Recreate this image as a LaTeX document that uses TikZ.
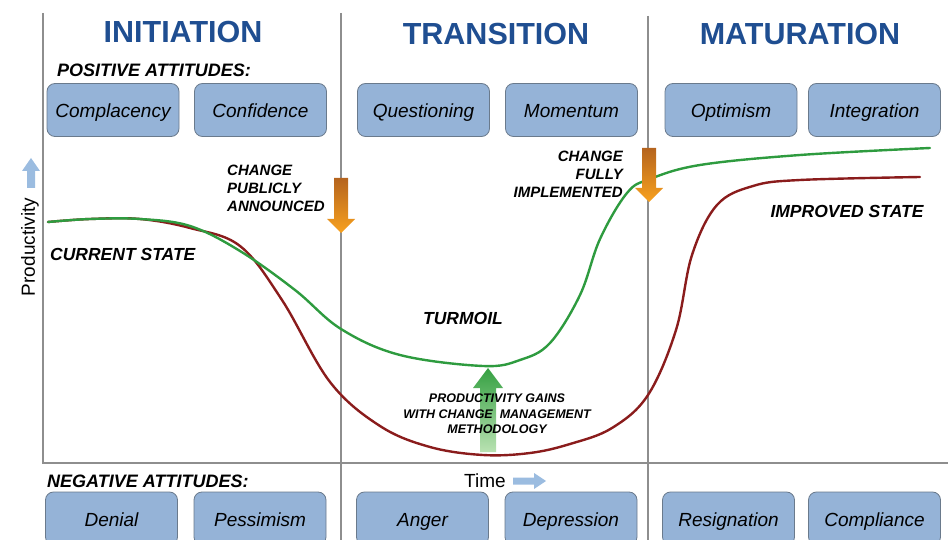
\documentclass[tikz,border=0pt]{standalone}
\usepackage{fontspec}
\setmainfont{Liberation Sans}
\definecolor{headblue}{HTML}{1F4E91}
\definecolor{boxfill}{HTML}{95B3D7}
\definecolor{boxline}{HTML}{6A7A8C}
\definecolor{axisgray}{HTML}{8E8E8E}
\definecolor{curvegreen}{HTML}{2E9B3F}
\definecolor{curvered}{HTML}{8A1C1C}
\definecolor{orangetop}{HTML}{B5641E}
\definecolor{orangebot}{HTML}{F8A11E}
\definecolor{greentop}{HTML}{35A042}
\definecolor{greenbot}{HTML}{B9E2B2}
\definecolor{lightarrow}{HTML}{9BBCE0}
\begin{document}
\begin{tikzpicture}[x=1pt,y=-1pt,
  attbox/.style={draw=boxline, line width=0.8pt, fill=boxfill, rounded corners=8pt,
    minimum width=132pt, minimum height=53pt, inner sep=0pt, text height=15pt, text depth=0pt,
    font=\fontsize{19}{22}\selectfont\itshape},
  heading/.style={text=headblue, inner sep=0pt, font=\fontsize{30.5}{34}\selectfont\bfseries},
  section/.style={inner sep=0pt, font=\fontsize{18}{20}\selectfont\bfseries\itshape},
  lbl/.style={inner sep=0pt, font=\fontsize{15}{18}\selectfont\bfseries\itshape},
  statelbl/.style={inner sep=0pt, font=\fontsize{17.5}{20}\selectfont\bfseries\itshape},
  smalllbl/.style={inner sep=0pt, align=center, font=\fontsize{12.5}{15.5}\selectfont\bfseries\itshape},
  axisline/.style={draw=axisgray, line width=2.2pt},
  curve/.style={line width=2.4pt, line cap=round}
]
\useasboundingbox (0,0) rectangle (948,540);
\clip (0,0) rectangle (948,540);

% axes and dividers
\draw[axisline] (43,13) -- (43,463) -- (948,463);
\draw[axisline] (341,13) -- (341,540);
\draw[axisline] (648,16) -- (648,540);

% headings
\node[heading] (h1) at (183,32) {INITIATION};
\node[heading] (h2) at (496,34) {TRANSITION};
\node[heading] (h3) at (800,34) {MATURATION};

\node[section, anchor=west] (pos) at (57,70) {POSITIVE ATTITUDES:};
\node[section, anchor=west] (neg) at (47,481) {NEGATIVE ATTITUDES:};

% positive boxes
\node[attbox] (b1) at (113,110) {Complacency};
\node[attbox] (b2) at (260.5,110) {Confidence};
\node[attbox] (b3) at (423.5,110) {Questioning};
\node[attbox] (b4) at (571.5,110) {Momentum};
\node[attbox] (b5) at (731,110) {Optimism};
\node[attbox] (b6) at (874.5,110) {Integration};

% negative boxes
\node[attbox] (n1) at (111.5,518.5) {Denial};
\node[attbox] (n2) at (260,518.5) {Pessimism};
\node[attbox] (n3) at (422.5,518.5) {Anger};
\node[attbox] (n4) at (571,518.5) {Depression};
\node[attbox] (n5) at (728.5,518.5) {Resignation};
\node[attbox] (n6) at (874.5,518.5) {Compliance};

% curves
\draw[curve, curvered] plot[smooth, tension=0.6] coordinates {
  (48,222) (90,219) (140,219) (190,228) (240,246) (282,300) (330,382) (380,426)
  (430,447) (483,455) (530,453) (570,444) (612,428) (648,395) (676,330) (692,255)
  (717,205) (753,186) (800,180) (920,177)};
\draw[curve, curvegreen] plot[smooth, tension=0.6] coordinates {
  (48,222) (90,219) (140,219) (190,226) (240,251) (295,290) (341,329)
  (400,355) (483,366) (520,360) (550,343) (580,295) (600,239) (627,193) (650,179)
  (700,165) (800,155) (930,148)};

% orange arrows
\shade[top color=orangetop, bottom color=orangebot]
  (334,178) -- (348,178) -- (348,219) -- (355,219) -- (341,233) -- (327,219) -- (334,219) -- cycle;
\shade[top color=orangetop, bottom color=orangebot]
  (642,148) -- (656,148) -- (656,188) -- (663,188) -- (649,202) -- (635,188) -- (642,188) -- cycle;

% green arrow
\shade[top color=greentop, bottom color=greenbot]
  (480,452) -- (496,452) -- (496,388) -- (503,388) -- (488,368) -- (473,388) -- (480,388) -- cycle;

% small blue arrows
\fill[lightarrow] (27,188) -- (35,188) -- (35,171) -- (40,171) -- (31,158) -- (22,171) -- (27,171) -- cycle;
\fill[lightarrow] (513,477.5) -- (534,477.5) -- (534,473) -- (546,481) -- (534,489) -- (534,484.5) -- (513,484.5) -- cycle;

% labels
\node[lbl, anchor=west, align=left] (cpa) at (227,188) {CHANGE\\PUBLICLY\\ANNOUNCED};
\node[lbl, anchor=east, align=right] (cfi) at (623,174) {CHANGE\\FULLY\\IMPLEMENTED};
\node[statelbl, anchor=west] (cur) at (50,254) {CURRENT STATE};
\node[statelbl] (tur) at (463,318) {TURMOIL};
\node[statelbl] (imp) at (847,211) {IMPROVED STATE};
\node[smalllbl] (gain) at (497,414) {PRODUCTIVITY GAINS\\WITH CHANGE\ \ MANAGEMENT\\METHODOLOGY};
\node[inner sep=0pt, font=\fontsize{19}{22}\selectfont] (time) at (485,481) {Time};
\node[inner sep=0pt, rotate=90, font=\fontsize{19}{22}\selectfont] (prod) at (30,247) {Productivity};
\end{tikzpicture}
\end{document}
